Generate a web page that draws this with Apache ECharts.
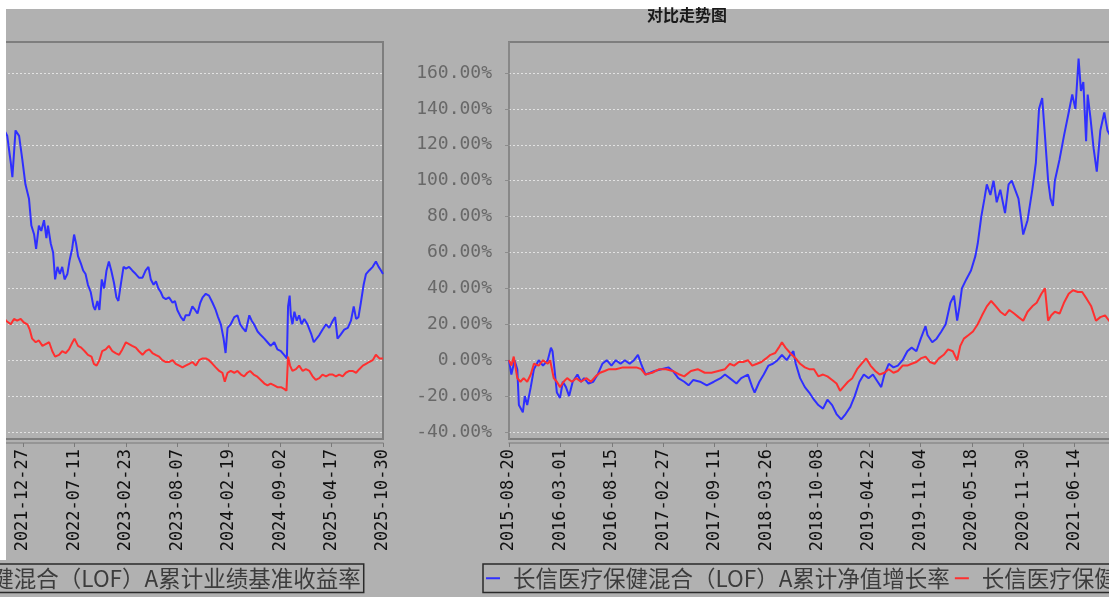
<!DOCTYPE html>
<html>
<head>
<meta charset="utf-8">
<script src="https://cdn.jsdelivr.net/npm/echarts@6/dist/echarts.min.js"></script>
<style>
  html, body { margin: 0; padding: 0; background: #fff; }
  #chart { width: 1109px; height: 597px; }
</style>
</head>
<body>
<div id="chart"></div>
<script>
(function() {
  'use strict';

  // Series names (legend text)
  var NAV_NAME = '长信医疗保健混合（LOF）A累计净值增长率';
  var BENCH_NAME = '长信医疗保健混合（LOF）A累计业绩基准收益率';

  // Date labels on the x axis, one every TICK_STEP trading days
  var tickLabels = [
    '2015-08-20', '2016-03-01', '2016-08-15', '2017-02-27', '2017-09-11',
    '2018-03-26', '2018-10-08', '2019-04-22', '2019-11-04', '2020-05-18',
    '2020-11-30', '2021-06-14', '2021-12-27', '2022-07-11', '2023-02-23',
    '2023-08-07', '2024-02-19', '2024-09-02', '2025-04-17', '2025-10-30'
  ];
  var TICK_STEP = 130;
  var LAST_DAY = (tickLabels.length - 1) * TICK_STEP;

  // Y axis tick values (%)
  var yTicks = [-40, -20, 0, 20, 40, 60, 80, 100, 120, 140, 160];

  // Fund cumulative NAV growth (%), sampled by trading day
  var navDay = [
    0, 6, 14, 21, 25, 35, 40, 46, 55, 63, 75, 86, 98, 106, 110, 115, 121, 129, 136, 144,
    152, 161, 173, 182, 190, 201, 213, 224, 236, 247, 259, 270, 282, 293, 305, 316, 326, 334, 345, 357,
    368, 385, 403, 414, 428, 443, 454, 466, 483, 500, 518, 535, 546, 558, 575, 587, 604, 615, 621, 633,
    644, 656, 667, 679, 690, 702, 711, 719, 725, 736, 748, 759, 771, 782, 794, 805, 817, 828, 840, 851,
    863, 874, 886, 897, 909, 920, 932, 941, 949, 960, 972, 983, 995, 1007, 1018, 1030, 1041, 1053, 1058, 1070,
    1081, 1093, 1104, 1110, 1116, 1125, 1133, 1139, 1145, 1156, 1168, 1179, 1185, 1194, 1202, 1208, 1217, 1225, 1233, 1242,
    1254, 1263, 1271, 1288, 1300, 1311, 1323, 1332, 1340, 1348, 1355, 1363, 1369, 1375, 1380, 1392, 1403, 1415, 1424, 1432,
    1440, 1446, 1452, 1459, 1463, 1470, 1478, 1486, 1495, 1505, 1513,
    1520, 1529, 1533, 1541, 1550, 1558, 1566, 1575, 1581, 1588, 1593, 1600, 1606, 1613, 1619, 1623, 1630, 1636, 1641, 1647,
    1653, 1659, 1665, 1672, 1678, 1684, 1689, 1694, 1699, 1706, 1712, 1718, 1724, 1731, 1738, 1742, 1748, 1753, 1759, 1765,
    1771, 1777, 1783, 1790, 1796, 1801, 1807, 1814, 1820, 1828, 1836, 1845, 1853, 1862, 1870, 1877, 1883, 1890, 1896, 1902,
    1908, 1914, 1921, 1929, 1938, 1944, 1950, 1959, 1966, 1971, 1980, 1988, 1995, 2001, 2008, 2014, 2022, 2030, 2039, 2047,
    2053, 2060, 2067, 2072, 2077, 2085, 2094, 2102, 2109, 2115, 2123, 2132, 2138, 2144, 2153, 2161, 2170, 2178, 2186, 2195,
    2203, 2212, 2220, 2227, 2230, 2234, 2237, 2241, 2246, 2252, 2258, 2264, 2271, 2279, 2288, 2295, 2300, 2309, 2317, 2326,
    2334, 2343, 2349, 2355, 2362, 2372, 2381, 2389, 2396, 2402, 2408, 2414, 2421, 2427, 2435, 2444, 2452, 2459, 2465, 2470
  ];
  var navPct = [
    0, -8, 0, -5, -25, -29, -20, -25, -15, -5, 0, -3, 0, 7, 5, -5, -18, -21, -12, -15,
    -20, -12, -8, -12, -10, -13, -12, -8, -2, 0, -3, 0, -2, 0, -2, 0, 3, -2, -8, -7,
    -6, -5, -4, -6, -10, -12, -14, -11, -12, -14, -12, -10, -8, -10, -13, -10, -8, -15, -18, -12,
    -8, -3, -2, 0, 3, 0, 3, 5, -2, -10, -15, -18, -22, -25, -27, -22, -25, -30, -33, -30,
    -26, -20, -12, -8, -10, -8, -12, -15, -8, -2, -4, -3, 0, 5, 7, 5, 12, 19, 14, 10,
    12, 16, 20, 26, 32, 36, 22, 30, 40, 45, 50, 58, 65, 80, 90, 98, 92, 100, 88, 95,
    82, 98, 100, 90, 70, 78, 95, 110, 140, 146, 125, 100, 90, 86, 100, 112, 125, 138, 148, 140,
    168, 150, 155, 122, 148, 135, 118, 105, 128, 138, 128,
    125, 110, 102, 128, 125, 112, 98, 90, 75, 70, 62, 75, 72, 78, 68, 75, 65, 60, 45, 52,
    48, 52, 45, 48, 56, 62, 70, 65, 58, 54, 50, 48, 42, 38, 30, 28, 33, 28, 45, 40,
    50, 55, 50, 43, 35, 33, 42, 52, 51, 52, 50, 48, 46, 46, 50, 52, 45, 42, 44, 40,
    38, 35, 34, 35, 32, 33, 28, 24, 22, 25, 25, 30, 28, 26, 32, 35, 37, 36, 32, 28,
    24, 20, 12, 4, 18, 20, 24, 25, 20, 18, 16, 25, 22, 20, 16, 14, 12, 10, 8, 10,
    6, 5, 3, 1, 30, 36, 25, 20, 27, 22, 25, 20, 23, 20, 15, 10, 9, 14, 17, 20,
    18, 22, 24, 12, 14, 17, 18, 22, 30, 23, 24, 32, 42, 48, 50, 52, 55, 52, 50, 48
  ];

  // Benchmark cumulative return (%), sampled by trading day
  var benchDay = [
    0, 6, 12, 17, 21, 29, 37, 46, 55, 63, 75, 86, 98, 104, 113, 121, 129, 138, 147, 159,
    170, 182, 196, 207, 219, 230, 242, 253, 270, 288, 305, 322, 334, 345, 362, 380, 397, 414, 431, 443,
    460, 477, 495, 512, 529, 546, 558, 569, 581, 592, 604, 615, 627, 638, 650, 661, 673, 682, 690, 699,
    707, 715, 725, 736, 748, 759, 771, 782, 794, 805, 817, 828, 837, 845, 857, 868, 880, 891, 903, 914,
    926, 937, 949, 960, 972, 983, 995, 1007, 1018, 1030, 1041, 1053, 1064, 1076, 1087, 1099, 1110, 1122, 1133, 1141,
    1150, 1162, 1173, 1185, 1196, 1208, 1219, 1231, 1242, 1254, 1265, 1277, 1288, 1300, 1311, 1323, 1334, 1346, 1355, 1363,
    1371, 1380, 1392, 1403, 1415, 1426, 1438, 1449, 1461, 1472, 1484, 1495, 1507, 1517,
    1520, 1529, 1537, 1545, 1554, 1562, 1571, 1577, 1583, 1592, 1600, 1609, 1617, 1626, 1634, 1641, 1651, 1659, 1668, 1676,
    1685, 1690, 1699, 1707, 1716, 1724, 1733, 1739, 1746, 1753, 1760, 1769, 1777, 1786, 1794, 1803, 1811, 1820, 1828, 1836,
    1845, 1853, 1862, 1870, 1879, 1887, 1895, 1904, 1912, 1921, 1929, 1938, 1946, 1955, 1963, 1971, 1980, 1988, 1997, 2005,
    2014, 2022, 2030, 2039, 2047, 2056, 2064, 2070, 2077, 2085, 2094, 2102, 2111, 2119, 2127, 2134, 2143, 2151, 2161, 2170,
    2178, 2186, 2195, 2203, 2212, 2220, 2226, 2230, 2235, 2241, 2250, 2258, 2267, 2275, 2284, 2292, 2300, 2309, 2317, 2326,
    2334, 2343, 2351, 2359, 2368, 2376, 2385, 2393, 2402, 2410, 2419, 2427, 2435, 2444, 2452, 2461, 2470
  ];
  var benchPct = [
    0, -3, 2, 3, -10, -12, -10, -12, -8, -2, -3, 0, -2, 0, -10, -12, -15, -12, -10, -12,
    -10, -12, -10, -12, -9, -7, -6, -5, -5, -4, -4, -4, -5, -8, -7, -5, -5, -6, -8, -9,
    -6, -5, -7, -7, -6, -5, -2, -3, -1, -1, 0, -3, -2, -1, 1, 3, 4, 7, 10, 7,
    5, 3, 1, -2, -4, -5, -5, -9, -8, -9, -11, -13, -17, -15, -12, -10, -5, -2, 1, -3,
    -6, -8, -7, -5, -7, -6, -3, -3, -2, -1, 1, 2, -1, -2, 1, 3, 6, 5, 0, 8,
    12, 14, 16, 20, 25, 30, 33, 30, 27, 25, 28, 26, 24, 22, 27, 30, 32, 37, 40, 22,
    25, 27, 26, 32, 37, 39, 38, 38, 34, 30, 22, 24, 25, 22,
    22, 20, 23, 22, 23, 21, 20, 17, 12, 10, 11, 8, 9, 10, 5, 2, 3, 5, 4, 6,
    10, 12, 8, 7, 5, 3, 2, -2, -3, 0, 5, 6, 8, 5, 4, 3, 6, 10, 9, 8,
    7, 5, 3, 5, 6, 4, 3, 2, 0, -1, -1, 0, -2, -3, -4, -3, -2, -1, -3, 0,
    1, 1, 0, -2, -4, -6, -7, -12, -7, -6, -7, -6, -8, -9, -7, -6, -8, -9, -11, -13,
    -14, -13, -14, -15, -15, -16, -17, 2, -3, -6, -5, -3, -6, -5, -6, -9, -11, -10, -8, -9,
    -8, -8, -9, -8, -9, -7, -6, -6, -7, -5, -3, -2, -1, 0, 3, 1, 1
  ];

  var navData = navDay.map(function(d, i) { return [d, navPct[i]]; });
  var benchData = benchDay.map(function(d, i) { return [d, benchPct[i]]; });
  var xTicks = tickLabels.map(function(_, i) { return i * TICK_STEP; });

  // The picture is one wide plot wrapped round the canvas edge:
  // the start sits on the right (from x=509), the tail on the left (to x=383).
  var W = 1109;
  var PLOT_TOP = 42, PLOT_BOTTOM = 439;
  var RIGHT_LEFT = 509, LEFT_RIGHT = 383, SEAM = 1103;
  var dayPerPx = LAST_DAY / (LEFT_RIGHT + SEAM - RIGHT_LEFT);
  var rightMax = (W + 3 - RIGHT_LEFT) * dayPerPx;
  var leftMin = LAST_DAY - LEFT_RIGHT * dayPerPx;

  // y range so that -40 .. 160 land on the dotted lines inside the frame
  var pctPerPx = 200 / 359;
  var yMax = 160 + 31 * pctPerPx;
  var yMin = -40 - 7 * pctPerPx;

  var BLUE = '#2f2fff', RED = '#ff2f2f';
  var FRAME = '#7e7e7e';
  var MONO = 'DejaVu Sans Mono';
  var CJK = 'Noto Sans CJK SC';

  function gridFor(left, right) {
    return {
      left: left, right: right, top: PLOT_TOP, bottom: 597 - PLOT_BOTTOM,
      show: true, borderColor: FRAME, borderWidth: 2,
      backgroundColor: 'transparent', outerBoundsMode: 'none', containLabel: false
    };
  }

  function xAxisFor(gridIndex, min, max) {
    return {
      type: 'value', gridIndex: gridIndex, min: min, max: max, offset: 4,
      axisLine: { show: true, onZero: false, lineStyle: { color: '#8c8c8c', width: 1.5 } },
      axisTick: { show: true, customValues: xTicks, length: 4, lineStyle: { color: '#7a7a7a' } },
      axisLabel: {
        customValues: xTicks, rotate: 90, margin: 6, hideOverlap: false,
        fontFamily: MONO, fontSize: 17, color: '#111',
        formatter: function(v) { return tickLabels[Math.round(v / TICK_STEP)] || ''; }
      },
      splitLine: { show: false }
    };
  }

  function yAxisFor(gridIndex, visible) {
    return {
      type: 'value', gridIndex: gridIndex, min: yMin, max: yMax, offset: 6,
      axisLine: { show: visible, lineStyle: { color: '#8c8c8c', width: 1.5 } },
      axisTick: { show: visible, customValues: yTicks, length: 4, lineStyle: { color: '#8c8c8c' } },
      axisLabel: {
        show: visible, customValues: yTicks, margin: 11,
        fontFamily: MONO, fontSize: 18, color: '#686868',
        formatter: function(v) { return v.toFixed(2) + '%'; }
      },
      splitLine: { show: true, lineStyle: { color: '#e2e2e2', type: [2, 2], width: 1 } }
    };
  }

  function lineSeries(name, data, color, idx) {
    return {
      name: name, type: 'line', xAxisIndex: idx, yAxisIndex: idx, data: data,
      symbol: 'none', showSymbol: false, clip: true,
      lineStyle: { color: color, width: 2 }, itemStyle: { color: color },
      emphasis: { disabled: true }
    };
  }

  var legendBase = {
    top: 564, orient: 'horizontal', width: 1400,
    icon: 'rect', itemWidth: 14, itemHeight: 2, itemGap: 5,
    padding: [3, 3, 3, 3],
    borderColor: '#2a2a2a', borderWidth: 1.5,
    textStyle: { fontFamily: CJK, fontSize: 22.5, color: '#3c3c3c', padding: [0, 0, 0, 8] },
    data: [NAV_NAME, BENCH_NAME]
  };

  var chart = echarts.init(document.getElementById('chart'), null, { renderer: 'canvas' });
  chart.setOption({
    animation: false,
    backgroundColor: '#b1b1b1',
    title: {
      text: '对比走势图', left: 642, top: 2, z: 100,
      textStyle: { fontFamily: CJK, fontSize: 16, fontWeight: 'bold', color: '#1a1a1a' }
    },
    legend: [
      Object.assign({}, legendBase, { left: RIGHT_LEFT - 26 }),
      Object.assign({}, legendBase, { left: RIGHT_LEFT - 26 - SEAM })
    ],
    grid: [gridFor(RIGHT_LEFT, -3), gridFor(0, W - LEFT_RIGHT)],
    xAxis: [xAxisFor(0, 0, rightMax), xAxisFor(1, leftMin, LAST_DAY)],
    yAxis: [yAxisFor(0, true), yAxisFor(1, false)],
    series: [
      lineSeries(NAV_NAME, navData, BLUE, 0),
      lineSeries(BENCH_NAME, benchData, RED, 0),
      lineSeries(NAV_NAME, navData, BLUE, 1),
      lineSeries(BENCH_NAME, benchData, RED, 1)
    ],
    graphic: [
      { type: 'rect', z: 90, silent: true, shape: { x: 0, y: 0, width: W, height: 9 }, style: { fill: '#fff' } },
      { type: 'rect', z: 90, silent: true, shape: { x: 0, y: 0, width: 6, height: 560 }, style: { fill: '#fff' } }
    ]
  });
})();
</script>
</body>
</html>
